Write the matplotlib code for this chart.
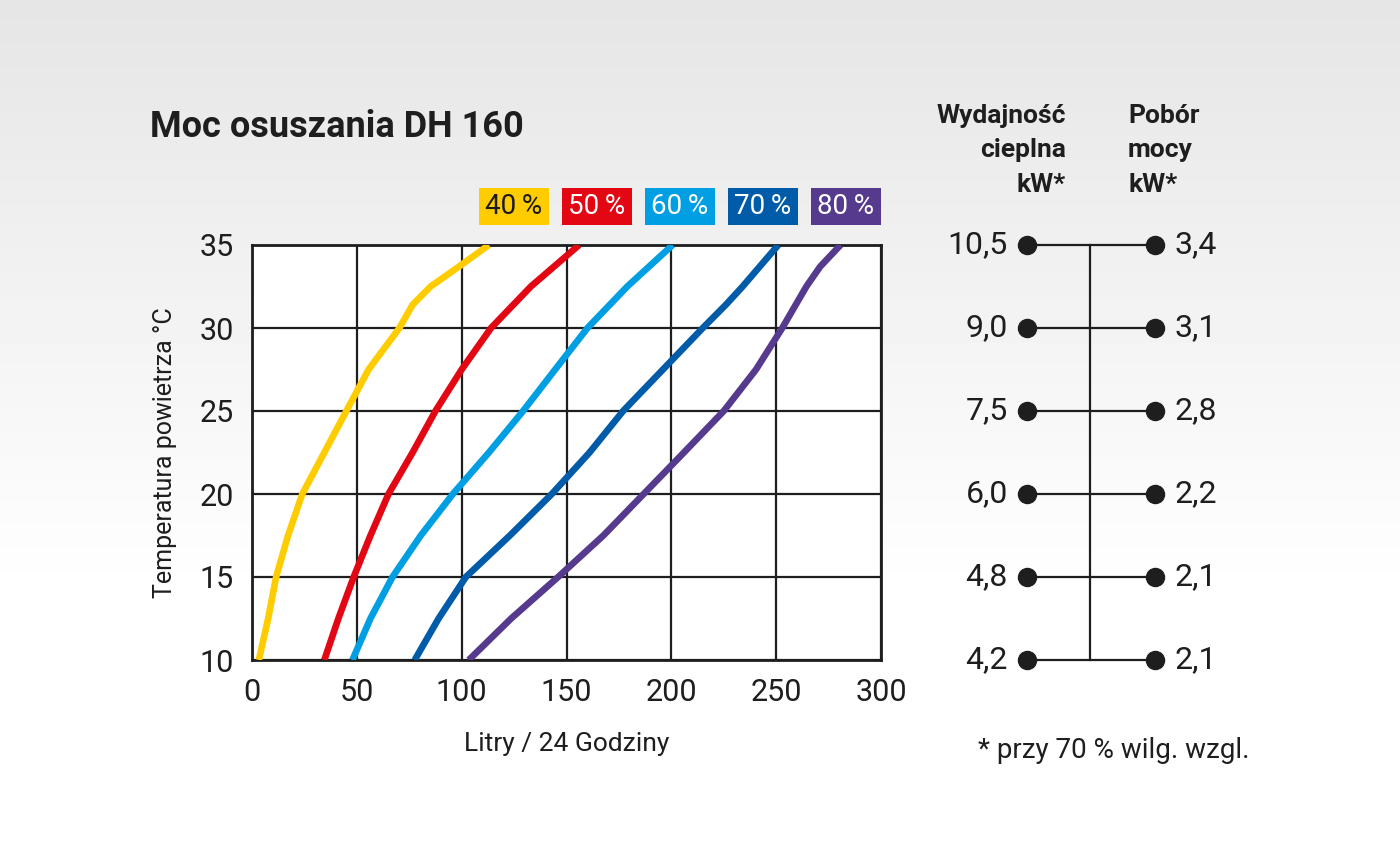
import numpy as np
import matplotlib.pyplot as plt
from matplotlib.patches import Rectangle

plt.rcParams['font.family'] = ['Roboto', 'DejaVu Sans']

# curves: temperature (°C) vs litres / 24 h for each relative humidity
labels = ['40\u2009%', '50\u2009%', '60\u2009%', '70\u2009%', '80\u2009%']
colors = ['#FFCC00', '#E30613', '#009FE3', '#005CA9', '#563A8E']
text_colors = ['#1a1a1a', 'white', 'white', 'white', 'white']

temps = [10, 12.5, 15, 17.5, 20, 22.5, 25, 27.5, 30, 32.5, 35]

temp_40 = [10, 12.5, 15, 17.5, 20, 22.5, 25, 27.5, 30, 31.4, 32.5, 33.7, 35]
litres_40 = [3.3, 7.7, 11.5, 17.2, 24, 34.5, 45, 55.6, 70.3, 76.6, 85.2, 98.7, 113]

litres_50 = [34.5, 41.2, 48.5, 56.5, 65.1, 76.6, 87.5, 100, 114, 133, 156]
litres_60 = [47.9, 56.5, 67, 80.5, 95.8, 113, 129.3, 144.6, 160, 179, 200.6]

temp_70 = [10, 12.5, 15, 17.5, 20, 22.5, 25, 27.5, 30, 31.4, 32.5, 35]
litres_70 = [77.6, 89, 102, 123, 143, 161, 177, 196, 215, 226, 234, 251]

temp_80 = [10, 12.5, 15, 17.5, 20, 22.5, 25, 27.5, 30, 32.5, 33.7, 35]
litres_80 = [103.4, 123.6, 146, 167.6, 186.8, 206, 225, 240.4, 252.9, 264.4, 271, 280.7]

curves = [(litres_40, temp_40), (litres_50, temps), (litres_60, temps),
          (litres_70, temp_70), (litres_80, temp_80)]

# right panel
row_temps = [35, 30, 25, 20, 15, 10]
heat_output = [10.5, 9.0, 7.5, 6.0, 4.8, 4.2]
power_input = [3.4, 3.1, 2.8, 2.2, 2.1, 2.1]

W, H = 1400, 860
ink = '#1e1e1e'
fig = plt.figure(figsize=(14, 8.6), dpi=100)

# grey gradient background
bg = fig.add_axes([0, 0, 1, 1], zorder=-10)
grad = np.linspace(0.865, 1.0, 256).reshape(-1, 1)
grad = np.clip(grad * 1.08 - 0.035, 0, 1)
bg.imshow(grad, aspect='auto', cmap='gray', vmin=0, vmax=1, extent=[0, 1, 0, 1])
bg.axis('off')

# main chart
left, right, bottom, top = 252, 881, 660, 245
ax = fig.add_axes([left / W, 1 - bottom / H, (right - left) / W, (bottom - top) / H])
ax.set_facecolor('white')
for (x, y), c in zip(curves, colors):
    ax.plot(x, y, color=c, lw=4.8, solid_joinstyle='round', solid_capstyle='butt', zorder=3)

ax.set_xlim(0, 300)
ax.set_ylim(10, 35)
ax.set_xticks(range(0, 301, 50))
ax.set_yticks(range(10, 36, 5))
ax.grid(True, color=ink, lw=1.6, zorder=1)
ax.set_axisbelow(True)
for s in ax.spines.values():
    s.set_linewidth(2)
    s.set_color(ink)
ax.tick_params(length=0, labelsize=22, pad=13, labelcolor=ink)
ax.set_xlabel('Litry / 24 Godziny', fontsize=19, color=ink, labelpad=18)
ax.set_ylabel('Temperatura powietrza °C', fontsize=18, color=ink, labelpad=16)

# title
fig.text(150 / W, 1 - 127 / H, 'Moc osuszania DH 160', fontsize=26, fontweight='bold',
         color=ink, va='center', ha='left')

# humidity legend boxes
for i, (lab, c, tc) in enumerate(zip(labels, colors, text_colors)):
    x0 = 479 + i * 83
    fig.patches.append(Rectangle((x0 / W, 1 - 225 / H), 70 / W, 37 / H,
                                 transform=fig.transFigure, facecolor=c, edgecolor='none'))
    fig.text((x0 + 35) / W, 1 - 207 / H, lab, fontsize=20, color=tc, ha='center', va='center')

# right panel
ax2 = fig.add_axes([0, 1 - bottom / H, 1, (bottom - top) / H], zorder=2)
ax2.set_xlim(0, W)
ax2.set_ylim(10, 35)
ax2.axis('off')
ax2.plot([1090, 1090], [min(row_temps), max(row_temps)], color=ink, lw=1.6, clip_on=False)
for t, h, p in zip(row_temps, heat_output, power_input):
    ax2.plot([1027, 1155], [t, t], color=ink, lw=1.6, marker='o', markersize=13,
             markerfacecolor=ink, markeredgecolor=ink, clip_on=False)
    ax2.text(1008, t, f'{h:.1f}'.replace('.', ','), fontsize=23, ha='right', va='center',
             color=ink)
    ax2.text(1174, t, f'{p:.1f}'.replace('.', ','), fontsize=23, ha='left', va='center',
             color=ink)

fig.text(1066 / W, 1 - 104 / H, 'Wydajność\ncieplna\nkW*', fontsize=19, fontweight='bold',
         ha='right', va='top', multialignment='right', linespacing=1.55, color=ink)
fig.text(1128 / W, 1 - 104 / H, 'Pobór\nmocy\nkW*', fontsize=19, fontweight='bold',
         ha='left', va='top', multialignment='left', linespacing=1.55, color=ink)
fig.text(1250 / W, 1 - 750 / H, '* przy 70 % wilg. wzgl.', fontsize=20, ha='right',
         va='center', color=ink)

fig.savefig('out.png', dpi=100)
